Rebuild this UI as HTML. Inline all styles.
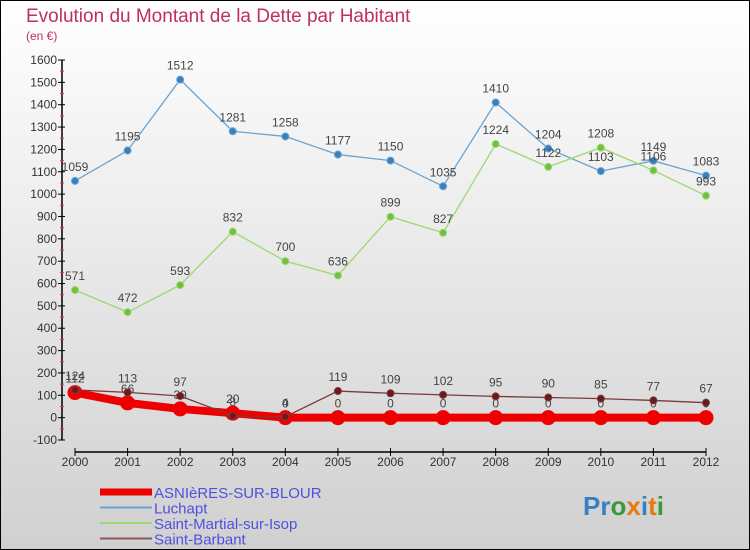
<!DOCTYPE html>
<html><head><meta charset="utf-8"><style>
html,body{margin:0;padding:0;}
body{width:750px;height:550px;overflow:hidden;font-family:"Liberation Sans",sans-serif;}
</style></head><body>
<svg id="chart" width="750" height="550" xmlns="http://www.w3.org/2000/svg" style="display:block">
<defs><linearGradient id="bg" x1="0" y1="0" x2="0" y2="1"><stop offset="0" stop-color="#ffffff"/><stop offset="1" stop-color="#d0d0d0"/></linearGradient></defs>
<rect x="0.5" y="0.5" width="749" height="549" fill="url(#bg)" stroke="#000"/>
<text x="26" y="22" font-size="19" fill="#c0305a">Evolution du Montant de la Dette par Habitant</text>
<text x="26" y="40" font-size="12" fill="#c0305a">(en €)</text>
<g id="axes"></g>
<g id="series"></g>
<g id="legend"></g>
<text x="583" y="515" font-size="26" font-weight="bold"><tspan fill="#3a7fc4">Pr</tspan><tspan fill="#3a9a3a">o</tspan><tspan fill="#e87a10">x</tspan><tspan fill="#3a7fc4">i</tspan><tspan fill="#e87a10">t</tspan><tspan fill="#3a9a3a">i</tspan></text>
</svg>
<script>
const years=[2000,2001,2002,2003,2004,2005,2006,2007,2008,2009,2010,2011,2012];
const yTicks=[-100,0,100,200,300,400,500,600,700,800,900,1000,1100,1200,1300,1400,1500,1600];
const asnieres=[112,66,39,20,0,0,0,0,0,0,0,0,0];
const luchapt=[1059,1195,1512,1281,1258,1177,1150,1035,1410,1204,1103,1149,1083];
const stMartial=[571,472,593,832,700,636,899,827,1224,1122,1208,1106,993];
const stBarbant=[124,113,97,8,4,119,109,102,95,90,85,77,67];
const NS='http://www.w3.org/2000/svg';
const x0=75,x1=706,yMin=-100,yMax=1600,py0=440,py1=60;
const X=i=>x0+(x1-x0)*i/(years.length-1);
const Y=v=>py0-(v-yMin)*(py0-py1)/(yMax-yMin);
function mk(tag,attrs,parent){const e=document.createElementNS(NS,tag);for(const k in attrs)e.setAttribute(k,attrs[k]);parent.appendChild(e);return e;}
const axes=document.getElementById('axes');
let a=mk('line',{x1:62,y1:Y(1600),x2:62,y2:Y(-100),stroke:'#000','stroke-width':1.5},axes);


a=mk('line',{x1:75,y1:452,x2:706,y2:452,stroke:'#000','stroke-width':1.5},axes);


yTicks.forEach(v=>{
  mk('line',{x1:58,y1:Y(v),x2:65,y2:Y(v),stroke:'#000'},axes);
  if(v<1600)mk('line',{x1:60,y1:Y(v+50),x2:64,y2:Y(v+50),stroke:'#e33'},axes);
  const t=mk('text',{x:57,y:Y(v)+4,'text-anchor':'end','font-size':12,fill:'#333'},axes);
  t.textContent=v;
  
  
});
years.forEach((yr,i)=>{
  mk('line',{x1:X(i),y1:448,x2:X(i),y2:456,stroke:'#000'},axes);
  const t=mk('text',{x:X(i),y:466,'text-anchor':'middle','font-size':12,fill:'#333'},axes);
  t.textContent=yr;
  
  
});
const ser=document.getElementById('series');
function draw(vals,name,color,w,r,dot,labels){
  const g=mk('g',{},ser);
  
  
  const p=mk('polyline',{points:vals.map((v,i)=>X(i)+','+Y(v)).join(' '),fill:'none',stroke:color,'stroke-width':w},g);
  
  
  vals.forEach((v,i)=>{
    const c=mk('circle',{cx:X(i),cy:Y(v),r:r,fill:dot,stroke:color,'stroke-width':1},g);
    
    
    if(labels){const t=mk('text',{x:X(i),y:Y(v)-10,'text-anchor':'middle','font-size':12,fill:'#444'},g);
    t.textContent=v;
    
    }
  });
}
draw(luchapt,'luchapt','#6aa3d0',1.3,3.5,'#3a80c0',true);
draw(stMartial,'saint-martial','#9ad870',1.3,3.5,'#70c040',true);
draw(asnieres,'asnieres','#ee0000',8,7,'#ee0000',true);
draw(stBarbant,'saint-barbant','#7a3a3a',1.3,3.5,'#6a1a1a',true);
const lg=document.getElementById('legend');
const items=[['ASNIèRES-SUR-BLOUR','#ee0000',7],['Luchapt','#6aa3d0',2],['Saint-Martial-sur-Isop','#9ad870',2],['Saint-Barbant','#8a5a5a',2]];
items.forEach((it,k)=>{
  const y=492+k*15.5;
  const l=mk('line',{x1:100,y1:y,x2:152,y2:y,stroke:it[1],'stroke-width':it[2]},lg);
  
  
  const t=mk('text',{x:154,y:y+6,'font-size':15,fill:'#5050e0'},lg);
  t.textContent=it[0];
  
  
});
</script>
</body></html>
